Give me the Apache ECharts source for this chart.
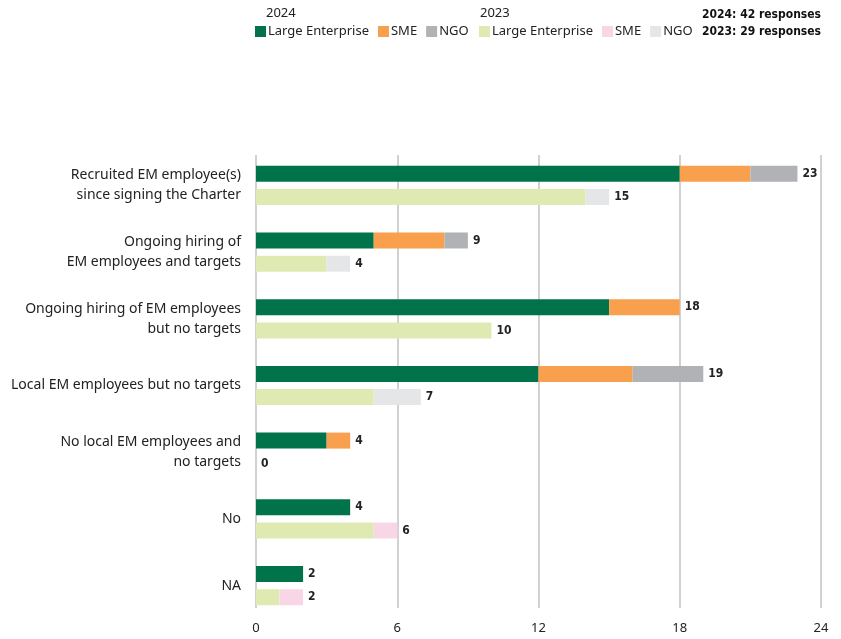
<!DOCTYPE html>
<html>
<head>
<meta charset="utf-8">
<script src="https://cdn.jsdelivr.net/npm/echarts@6/dist/echarts.min.js"></script>
<style>
  html, body { margin: 0; padding: 0; background: #fff; }
  #chart { width: 841px; height: 639px; }
</style>
</head>
<body>
<div id="chart"></div>
<script>
// Survey answers, one entry per category (top to bottom)
const categories = [
  'Recruited EM employee(s)\nsince signing the Charter',
  'Ongoing hiring of\nEM employees and targets',
  'Ongoing hiring of EM employees\nbut no targets',
  'Local EM employees but no targets',
  'No local EM employees and\nno targets',
  'No',
  'NA'
];

// 2024 responses by organisation type
const le2024  = [18, 5, 15, 12, 3, 4, 2];
const sme2024 = [3, 3, 3, 4, 1, 0, 0];
const ngo2024 = [2, 1, 0, 3, 0, 0, 0];

// 2023 responses by organisation type
const le2023  = [14, 3, 10, 5, 0, 5, 1];
const sme2023 = [0, 0, 0, 0, 0, 1, 1];
const ngo2023 = [1, 1, 0, 2, 0, 0, 0];

const xTicks = [0, 6, 12, 18, 24];
const legendTypes = ['Large Enterprise', 'SME', 'NGO'];

const colors2024 = ['#00734A', '#F8A04E', '#B0B2B5'];
const colors2023 = ['#DFEAB2', '#F9D6E6', '#E5E6E8'];

const sum = (arrs) => arrs[0].map((_, i) => arrs.reduce((s, a) => s + a[i], 0));
const total2024 = sum([le2024, sme2024, ngo2024]);
const total2023 = sum([le2023, sme2023, ngo2023]);

const labelFont = '"DejaVu Sans Condensed", "Liberation Sans Narrow", "DejaVu Sans", sans-serif';
const textFont = '"Noto Sans", sans-serif';

function barSeries(year, type, values, color) {
  return {
    name: year + ' ' + type,
    type: 'bar',
    stack: 'year' + year,
    xAxisIndex: 0,
    yAxisIndex: 0,
    barWidth: 16,
    barGap: '45%',
    data: values,
    itemStyle: { color: color },
    emphasis: { disabled: true },
    silent: true
  };
}

// Zero-length bar at the end of each stack carrying the total label
function totalSeries(year, totals) {
  return {
    name: year + ' total',
    type: 'bar',
    stack: 'year' + year,
    xAxisIndex: 0,
    yAxisIndex: 0,
    barWidth: 16,
    barGap: '45%',
    data: totals.map(() => 0),
    itemStyle: { color: 'transparent' },
    silent: true,
    label: {
      show: true,
      position: 'right',
      distance: 5,
      formatter: (p) => String(totals[p.dataIndex]),
      fontFamily: labelFont,
      fontWeight: 'bold',
      fontSize: 12,
      color: '#222'
    }
  };
}

const chart = echarts.init(document.getElementById('chart'), null, { renderer: 'canvas' });

const legendCommon = {
  top: 25,
  padding: 0,
  itemWidth: 11,
  itemHeight: 11,
  itemGap: 9,
  icon: 'rect',
  selectedMode: false,
  textStyle: { fontFamily: textFont, fontSize: 13, color: '#222', padding: [0, 0, 0, -3] }
};

chart.setOption({
  animation: false,
  backgroundColor: '#fff',
  grid: [
    // bars and category labels
    { left: 256, right: 20, top: 152, height: 467, containLabel: false },
    // vertical grid lines and value labels
    { left: 256, right: 20, top: 155, bottom: 31, containLabel: false }
  ],
  xAxis: [
    {
      gridIndex: 0,
      type: 'value',
      min: 0,
      max: 24,
      interval: 6,
      show: false,
      splitLine: { show: false }
    },
    {
      gridIndex: 1,
      type: 'value',
      min: 0,
      max: 24,
      interval: 6,
      axisLine: { show: false },
      axisTick: { show: false },
      splitLine: { show: true, lineStyle: { color: '#C2C2C2', width: 1.5 } },
      axisLabel: {
        margin: 14,
        fontFamily: textFont,
        fontSize: 13,
        color: '#222',
        formatter: (v) => xTicks.includes(v) ? String(v) : ''
      }
    }
  ],
  yAxis: [
    {
      gridIndex: 0,
      type: 'category',
      data: categories,
      inverse: true,
      axisLine: { show: false },
      axisTick: { show: false },
      axisLabel: {
        margin: 15,
        fontFamily: textFont,
        fontSize: 14,
        lineHeight: 20,
        color: '#222',
        align: 'right'
      }
    },
    {
      gridIndex: 1,
      type: 'value',
      show: false,
      splitLine: { show: false }
    }
  ],
  legend: [
    Object.assign({}, legendCommon, {
      left: 255,
      data: legendTypes.map(t => '2024 ' + t),
      formatter: (n) => n.replace('2024 ', '')
    }),
    Object.assign({}, legendCommon, {
      left: 479,
      data: legendTypes.map(t => '2023 ' + t),
      formatter: (n) => n.replace('2023 ', '')
    })
  ],
  graphic: [
    { type: 'text', left: 266, top: 7, style: { text: '2024', font: '13px ' + textFont, fill: '#222' } },
    { type: 'text', left: 480, top: 7, style: { text: '2023', font: '13px ' + textFont, fill: '#222' } },
    { type: 'text', right: 20, top: 9, style: { text: '2024: 42 responses', font: 'bold 12px ' + labelFont, fill: '#111', align: 'right' } },
    { type: 'text', right: 20, top: 26, style: { text: '2023: 29 responses', font: 'bold 12px ' + labelFont, fill: '#111', align: 'right' } }
  ],
  series: [
    barSeries('2024', 'Large Enterprise', le2024, colors2024[0]),
    barSeries('2024', 'SME', sme2024, colors2024[1]),
    barSeries('2024', 'NGO', ngo2024, colors2024[2]),
    totalSeries('2024', total2024),
    barSeries('2023', 'Large Enterprise', le2023, colors2023[0]),
    barSeries('2023', 'SME', sme2023, colors2023[1]),
    barSeries('2023', 'NGO', ngo2023, colors2023[2]),
    totalSeries('2023', total2023)
  ]
});
</script>
</body>
</html>
